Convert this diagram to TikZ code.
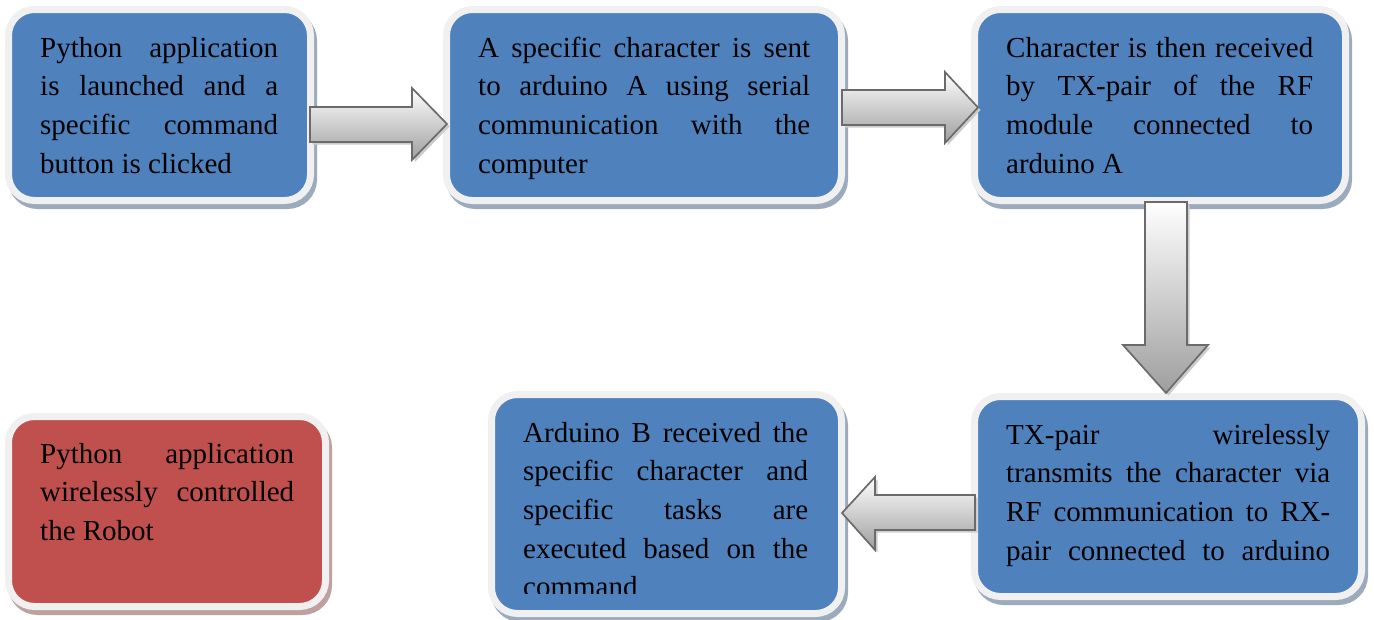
\documentclass[tikz,border=0pt]{standalone}
\usepackage{fontspec}
\setmainfont{Liberation Serif}
\usetikzlibrary{calc}
\definecolor{boxblue}{HTML}{4F81BD}
\definecolor{boxred}{HTML}{C0504D}
\definecolor{rimgray}{HTML}{F0F0F0}
\definecolor{shadeblue}{HTML}{9CAABD}
\definecolor{shadered}{HTML}{BFA0A0}
\definecolor{arrowline}{HTML}{6B6B6B}

\begin{document}
\begin{tikzpicture}[x=1pt, y=-1pt,
	boxrim/.style={rectangle, rounded corners=26pt, draw=rimgray, line width=7pt, inner sep=0pt,
		preaction={draw=#1, fill=#1, line width=7pt, transform canvas={xshift=3pt, yshift=-5pt}}},
	stepbox/.style={boxrim=shadeblue, fill=boxblue},
	endbox/.style={boxrim=shadered, fill=boxred},
	boxtext/.style={anchor=base west, inner sep=0pt, align=justify, font=\fontsize{29}{38.7}\selectfont},
	blockarrow/.style={draw=arrowline, line width=1.7pt, line join=miter, top color=white, bottom color=black!38,
		preaction={fill=black!20, transform canvas={xshift=2.5pt, yshift=-2.5pt}}}]
	\useasboundingbox (0,0) rectangle (1374,619);

	% boxes
	\node [stepbox, minimum width=302, minimum height=191] (launch) at (159.5,105) {};
	\node [stepbox, minimum width=395, minimum height=191] (sendchar) at (644,105) {};
	\node [stepbox, minimum width=371, minimum height=191] (txrecv) at (1160,105) {};
	\node [stepbox, minimum width=387, minimum height=200] (txsend) at (1168,496.5) {};
	\node [stepbox, minimum width=350, minimum height=219] (rxexec) at (666.5,504) {};
	\node [endbox, minimum width=317, minimum height=190] (result) at (167,511.5) {};

	% texts
	\node [boxtext, text width=238] (launch-txt) at (40,57) {Python application\linebreak is launched and a\linebreak specific command\linebreak button is clicked};
	\node [boxtext, text width=332] (sendchar-txt) at (478,57) {A specific character is sent\linebreak to arduino A using serial\linebreak communication with the\linebreak computer};
	\node [boxtext, text width=307] (txrecv-txt) at (1006,57) {Character is then received\linebreak by TX-pair of the RF\linebreak module connected to\linebreak arduino A};
	\node [boxtext, text width=324] (txsend-txt) at (1006,444) {TX-pair wirelessly\linebreak transmits the character via\linebreak RF communication to RX-\linebreak \makebox[\linewidth][s]{pair connected to arduino}};
	\begin{scope}
		\clip (495,398) rectangle (838,593);
		\node [boxtext, text width=285] (rxexec-txt) at (523,442) {Arduino B received the\linebreak specific character and\linebreak specific tasks are\linebreak executed based on the\linebreak command};
	\end{scope}
	\node [boxtext, text width=254] (result-txt) at (40,463) {Python application\linebreak wirelessly controlled\linebreak the Robot};

	% arrows
	\draw [blockarrow] (310,107) -- (412,107) -- (412,88) -- (447,124) -- (412,160) -- (412,142) -- (310,142) -- cycle;
	\draw [blockarrow] (842,90) -- (945,90) -- (945,72) -- (978,107.5) -- (945,143) -- (945,125) -- (842,125) -- cycle;
	\draw [blockarrow] (1145,202) -- (1187,202) -- (1187,345) -- (1208,345) -- (1166,393) -- (1123,345) -- (1145,345) -- cycle;
	\draw [blockarrow] (975,495) -- (875,495) -- (875,477) -- (842,513) -- (875,550) -- (875,530) -- (975,530) -- cycle;
\end{tikzpicture}
\end{document}
